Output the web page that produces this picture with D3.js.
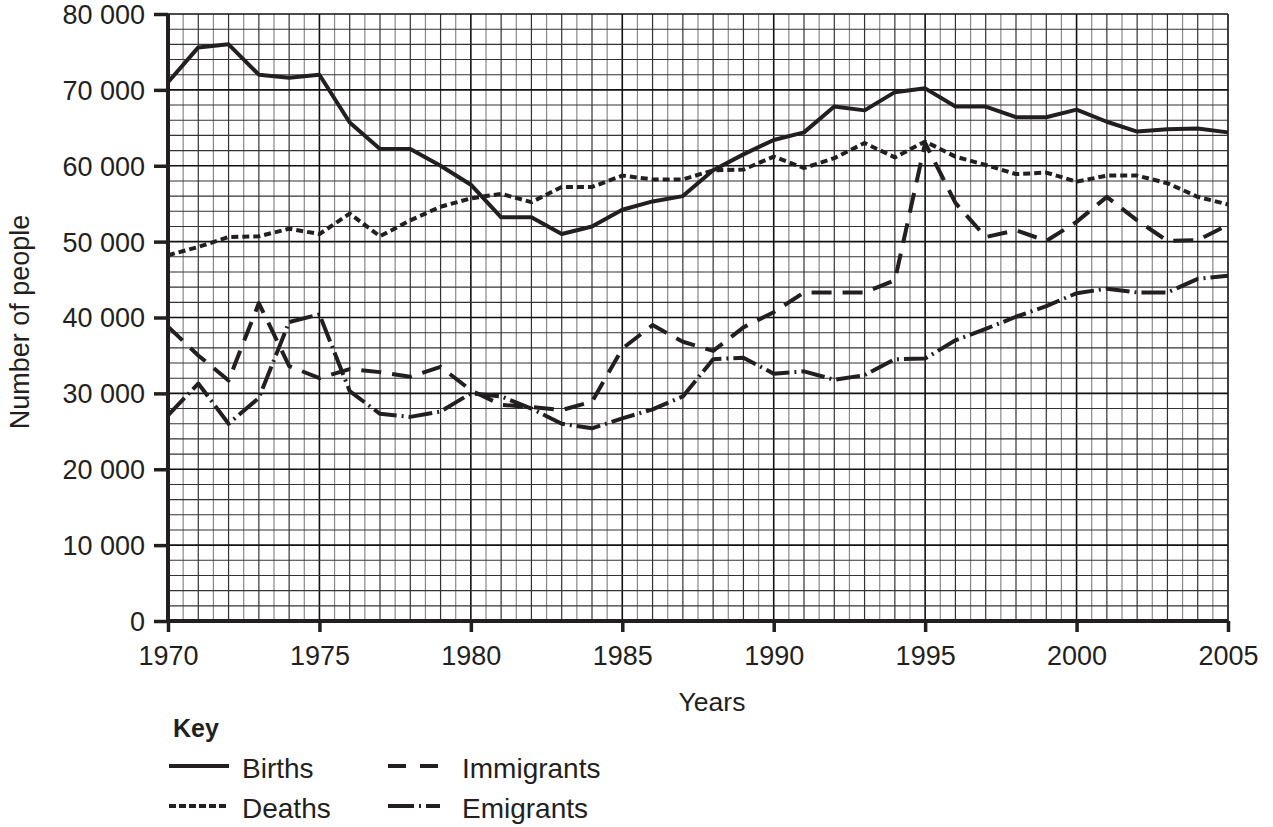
<!DOCTYPE html>
<html>
<meta charset="utf-8">
<head>
  <title>Births, deaths and migration</title>
</head>
<style>
body { margin: 0; background: #fff; }
text { font-family: "Liberation Sans", Arial, Helvetica, sans-serif; fill: #231f20; }
</style>
<body>
<svg id="chart" width="1273" height="827"></svg>
<script src="https://cdnjs.cloudflare.com/ajax/libs/d3/7.8.5/d3.min.js"></script>
<script>
// data
var years = d3.range(1970, 2006)
var births = [71000, 75600, 76000, 72000, 71600, 72000, 65700, 62200, 62200, 60000,
  57500, 53200, 53200, 51000, 52000, 54200, 55300, 56000, 59400, 61500,
  63400, 64400, 67800, 67300, 69700, 70200, 67800, 67800, 66400, 66400,
  67400, 65800, 64500, 64800, 64900, 64400]
var deaths = [48200, 49300, 50600, 50700, 51700, 51000, 53700, 50700, 52800, 54600,
  55700, 56300, 55200, 57200, 57200, 58700, 58200, 58200, 59400, 59500,
  61200, 59700, 61000, 63000, 61100, 63200, 61200, 60100, 58900, 59100,
  57900, 58700, 58700, 57700, 55900, 54900]
var immigrants = [38800, 35000, 31700, 41900, 33600, 32000, 33200, 32800, 32200, 33500,
  30400, 28500, 28200, 27800, 28900, 35900, 39000, 36800, 35600, 38700,
  40700, 43300, 43300, 43300, 44900, 63000, 55100, 50600, 51500, 50100,
  52600, 55900, 52800, 50100, 50200, 52200]
var emigrants = [27100, 31300, 26000, 29400, 39400, 40400, 30300, 27300, 26900, 27600,
  30000, 29600, 28000, 26000, 25400, 26700, 27900, 29600, 34500, 34700,
  32600, 32900, 31800, 32400, 34500, 34600, 37000, 38500, 40100, 41500,
  43200, 43800, 43300, 43300, 45100, 45500]
var yTicks = [0, 10000, 20000, 30000, 40000, 50000, 60000, 70000, 80000]
var xTicks = [1970, 1975, 1980, 1985, 1990, 1995, 2000, 2005]

var series = [
  {name: 'Births', values: births, dash: null, keyDash: null},
  {name: 'Deaths', values: deaths, dash: '7,4', keyDash: '7,3'},
  {name: 'Immigrants', values: immigrants, dash: '20,11', keyDash: '18,14'},
  {name: 'Emigrants', values: emigrants, dash: '24,5,2,5', keyDash: '26,5,2,5'}
]

var mLeft = 168, mRight = 1228, mTop = 14, mBottom = 621
var svg = d3.select('#chart')
var x = d3.scaleLinear().domain([1970, 2005]).range([mLeft, mRight])
var y = d3.scaleLinear().domain([0, 80000]).range([mBottom, mTop])

// graph paper grid
var grid = svg.append('g')
d3.range(1970, 2005.01, 0.5).forEach(function(v) {
  var major = v % 5 == 0, whole = v % 1 == 0
  grid.append('line')
    .attr('x1', x(v)).attr('x2', x(v)).attr('y1', mTop).attr('y2', mBottom)
    .attr('stroke', major ? '#111' : (whole ? '#333' : '#888'))
    .attr('stroke-width', major ? 1.6 : 1.2)
})
d3.range(0, 80001, 2000).forEach(function(v) {
  var major = v % 10000 == 0
  grid.append('line')
    .attr('x1', mLeft).attr('x2', mRight).attr('y1', y(v)).attr('y2', y(v))
    .attr('stroke', major ? '#111' : '#333')
    .attr('stroke-width', major ? 1.6 : 1.1)
})

// axes
var xAxis = svg.append('g')
  .attr('transform', 'translate(0,' + mBottom + ')')
  .call(d3.axisBottom(x).tickValues(xTicks).tickFormat(d3.format('d')).tickSize(11))
var yAxis = svg.append('g')
  .attr('transform', 'translate(' + mLeft + ',0)')
  .call(d3.axisLeft(y).tickValues(yTicks).tickFormat(function(d) {
    return d == 0 ? '0' : d3.format(',')(d).replace(',', ' ')
  }).tickSize(14).tickPadding(9))
;[xAxis, yAxis].forEach(function(a) {
  a.select('.domain').attr('stroke', '#231f20').attr('stroke-width', 4)
  a.selectAll('.tick line').attr('stroke', '#231f20').attr('stroke-width', 3.5)
  a.selectAll('.tick text').attr('font-size', 27).attr('fill', '#231f20')
    .style('font-family', '"Liberation Sans", Arial, sans-serif')
})
xAxis.select('.domain').attr('d', 'M' + mLeft + ',0H' + mRight)
yAxis.select('.domain').attr('d', 'M0,' + mBottom + 'V' + mTop)
xAxis.selectAll('.tick text').attr('dy', 0).attr('y', 44)
yAxis.selectAll('.tick text').attr('dy', '0.35em')

svg.append('text').attr('x', 712).attr('y', 711)
  .attr('text-anchor', 'middle').attr('font-size', 26.5).text('Years')
svg.append('text')
  .attr('transform', 'translate(29,' + 322 + ') rotate(-90)')
  .attr('text-anchor', 'middle').attr('font-size', 27).text('Number of people')

// series lines
var line = d3.line().x(function(d, i) { return x(years[i]) }).y(function(d) { return y(d) })
svg.append('g').selectAll('path').data(series).enter().append('path')
  .attr('d', function(d) { return line(d.values) })
  .attr('fill', 'none').attr('stroke', '#231f20').attr('stroke-width', 4)
  .attr('stroke-linejoin', 'round')
  .attr('stroke-dasharray', function(d) { return d.dash })

// key
var key = svg.append('g')
key.append('text').attr('x', 173).attr('y', 737).attr('font-size', 25)
  .attr('font-weight', 'bold').text('Key')
var keyPos = [[169, 766], [169, 806], [388, 766], [388, 806]]
series.forEach(function(s, i) {
  var p = keyPos[i]
  var len = i < 2 ? 60 : 52
  key.append('line').attr('x1', p[0]).attr('x2', p[0] + len).attr('y1', p[1]).attr('y2', p[1])
    .attr('stroke', '#231f20').attr('stroke-width', 4)
    .attr('stroke-dasharray', s.keyDash)
  key.append('text').attr('x', i < 2 ? 242 : 462).attr('y', p[1] + 12)
    .attr('font-size', 28).text(s.name)
})
</script>
</body>
</html>
